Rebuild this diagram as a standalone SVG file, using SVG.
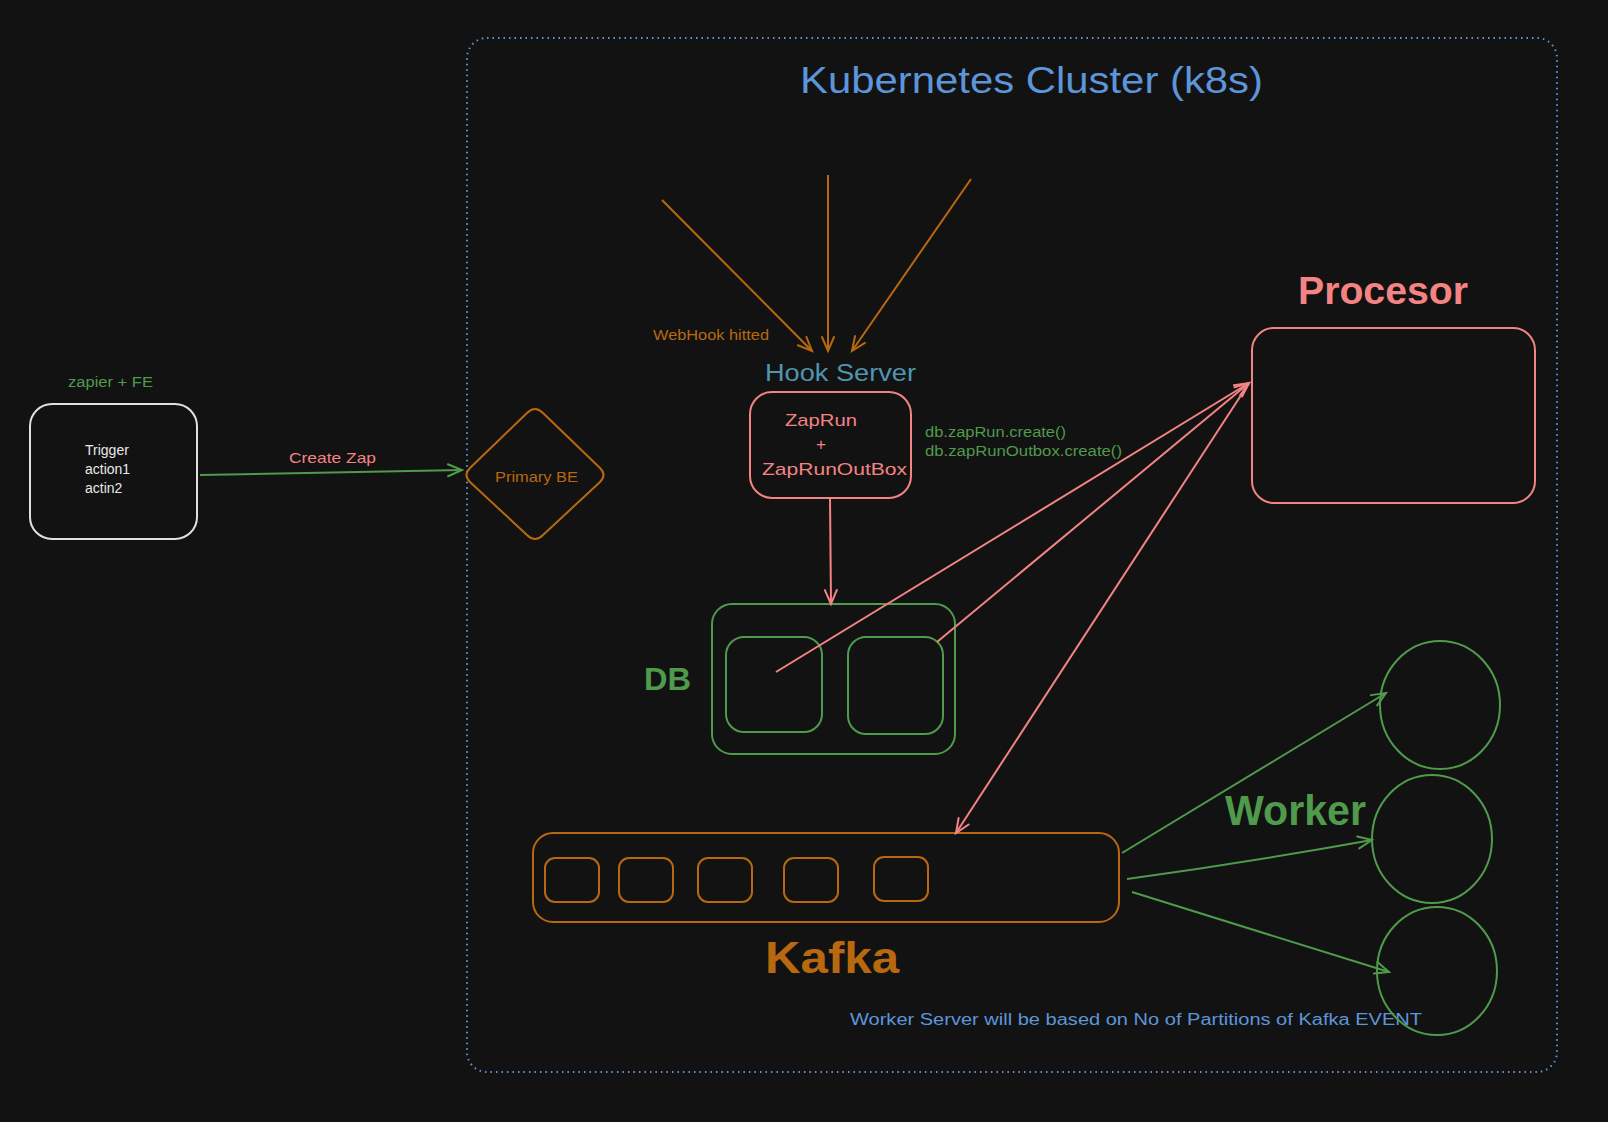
<svg xmlns="http://www.w3.org/2000/svg" width="1608" height="1122" viewBox="0 0 1608 1122">
<defs>
<style>
text{font-family:"Liberation Sans","DejaVu Sans",sans-serif;}
.green{fill:#4f9a4b;}
.orange{fill:#b8690f;}
.salmon{fill:#f48383;}
.blue{fill:#5d95da;}
.white{fill:#e8e8e8;}
.teal{fill:#4f95b0;}
.big{font-weight:bold;}
.sg{fill:none;stroke:#4f9a4b;stroke-width:2;}
.so{fill:none;stroke:#b8690f;stroke-width:2;}
.ss{fill:none;stroke:#f48383;stroke-width:2;}
.sw{fill:none;stroke:#e0e0e0;stroke-width:2;}
</style>
<marker id="ah-g" markerUnits="userSpaceOnUse" markerWidth="20" markerHeight="20" refX="16" refY="8" orient="auto"><path d="M2,2 L16,8 L2,14" fill="none" stroke="#4f9a4b" stroke-width="2" stroke-linecap="round"/></marker>
<marker id="ah-o" markerUnits="userSpaceOnUse" markerWidth="20" markerHeight="20" refX="16" refY="8" orient="auto"><path d="M2,2 L16,8 L2,14" fill="none" stroke="#b8690f" stroke-width="2" stroke-linecap="round"/></marker>
<marker id="ah-s" markerUnits="userSpaceOnUse" markerWidth="20" markerHeight="20" refX="16" refY="8" orient="auto"><path d="M2,2 L16,8 L2,14" fill="none" stroke="#f48383" stroke-width="2" stroke-linecap="round"/></marker>
</defs>
<rect x="0" y="0" width="1608" height="1122" fill="#121212"/>

<g id="cluster">
<rect x="467" y="38" width="1090" height="1034" rx="20" fill="none" stroke="#5d95da" stroke-width="2" stroke-dasharray="1.5 4"/>
<text x="800" y="93" font-size="37" class="blue" textLength="463" lengthAdjust="spacingAndGlyphs">Kubernetes Cluster (k8s)</text>
<text x="850" y="1025" font-size="16" class="blue" textLength="572" lengthAdjust="spacingAndGlyphs">Worker Server will be based on No of Partitions of Kafka EVENT</text>
</g>

<g id="zapier-fe">
<text x="68" y="387" font-size="14" class="green" textLength="85" lengthAdjust="spacingAndGlyphs">zapier + FE</text>
<rect x="30" y="404" width="167" height="135" rx="22" class="sw"/>
<text x="85" y="455" font-size="14" class="white">Trigger</text>
<text x="85" y="474" font-size="14" class="white">action1</text>
<text x="85" y="493" font-size="14" class="white">actin2</text>
</g>

<g id="primary-be">
<path d="M527,413 Q535,405 543,413 L600,468 Q607,475 600,482 L543,535 Q535,543 527,535 L470,482 Q463,475 470,468 Z" class="so"/>
<text x="495" y="482" font-size="14" class="orange" textLength="83" lengthAdjust="spacingAndGlyphs">Primary BE</text>
</g>

<g id="hook-server">
<text x="765" y="381" font-size="23" class="teal" textLength="151" lengthAdjust="spacingAndGlyphs">Hook Server</text>
<rect x="750" y="392" width="161" height="106" rx="22" class="ss"/>
<text x="785" y="426" font-size="17" class="salmon" textLength="72" lengthAdjust="spacingAndGlyphs">ZapRun</text>
<text x="816" y="450" font-size="17" class="salmon">+</text>
<text x="762" y="475" font-size="17" class="salmon" textLength="145" lengthAdjust="spacingAndGlyphs">ZapRunOutBox</text>
<text x="925" y="437" font-size="14" class="green" textLength="141" lengthAdjust="spacingAndGlyphs">db.zapRun.create()</text>
<text x="925" y="456" font-size="14" class="green" textLength="197" lengthAdjust="spacingAndGlyphs">db.zapRunOutbox.create()</text>
</g>

<g id="db">
<text x="644" y="690" font-size="31" class="green big" textLength="47" lengthAdjust="spacingAndGlyphs">DB</text>
<rect x="712" y="604" width="243" height="150" rx="20" class="sg"/>
<rect x="726" y="637" width="96" height="95" rx="18" class="sg"/>
<rect x="848" y="637" width="95" height="97" rx="18" class="sg"/>
</g>

<g id="processor">
<text x="1298" y="304" font-size="38" class="salmon big" textLength="170" lengthAdjust="spacingAndGlyphs">Procesor</text>
<rect x="1252" y="328" width="283" height="175" rx="22" class="ss"/>
</g>

<g id="kafka">
<rect x="533" y="833" width="586" height="89" rx="20" class="so"/>
<rect x="545" y="858" width="54" height="44" rx="10" class="so"/>
<rect x="619" y="858" width="54" height="44" rx="10" class="so"/>
<rect x="698" y="858" width="54" height="44" rx="10" class="so"/>
<rect x="784" y="858" width="54" height="44" rx="10" class="so"/>
<rect x="874" y="857" width="54" height="44" rx="10" class="so"/>
<text x="765" y="973" font-size="44" class="orange big" textLength="134" lengthAdjust="spacingAndGlyphs">Kafka</text>
</g>

<g id="workers">
<text x="1225" y="825" font-size="42" class="green big" textLength="141" lengthAdjust="spacingAndGlyphs">Worker</text>
<ellipse cx="1440" cy="705" rx="60" ry="64" class="sg"/>
<ellipse cx="1432" cy="839" rx="60" ry="64" class="sg"/>
<ellipse cx="1437" cy="971" rx="60" ry="64" class="sg"/>
</g>

<g id="connectors">
<line x1="200" y1="475" x2="462" y2="470" class="sg" stroke-width="2.5" marker-end="url(#ah-g)"/>
<text x="289" y="463" font-size="15" class="salmon" textLength="87" lengthAdjust="spacingAndGlyphs">Create Zap</text>
<line x1="662" y1="200" x2="812" y2="351" class="so" marker-end="url(#ah-o)"/>
<line x1="828" y1="175" x2="828" y2="351" class="so" marker-end="url(#ah-o)"/>
<line x1="971" y1="179" x2="852" y2="351" class="so" marker-end="url(#ah-o)"/>
<text x="653" y="340" font-size="14" class="orange" textLength="116" lengthAdjust="spacingAndGlyphs">WebHook hitted</text>
<line x1="830" y1="498" x2="831" y2="604" class="ss" marker-end="url(#ah-s)"/>
<line x1="776" y1="672" x2="1249" y2="383" class="ss" stroke-width="2.5" marker-end="url(#ah-s)"/>
<line x1="937" y1="642" x2="1249" y2="383" class="ss" stroke-width="1.6" marker-end="url(#ah-s)"/>
<line x1="1249" y1="383" x2="956" y2="833" class="ss" stroke-width="1.6" marker-end="url(#ah-s)"/>
<line x1="1122" y1="853" x2="1386" y2="693" class="sg" marker-end="url(#ah-g)"/>
<path d="M1127,879 Q1250,862 1372,840" class="sg" stroke-width="2.5" marker-end="url(#ah-g)"/>
<line x1="1132" y1="892" x2="1389" y2="972" class="sg" marker-end="url(#ah-g)"/>
</g>
</svg>
